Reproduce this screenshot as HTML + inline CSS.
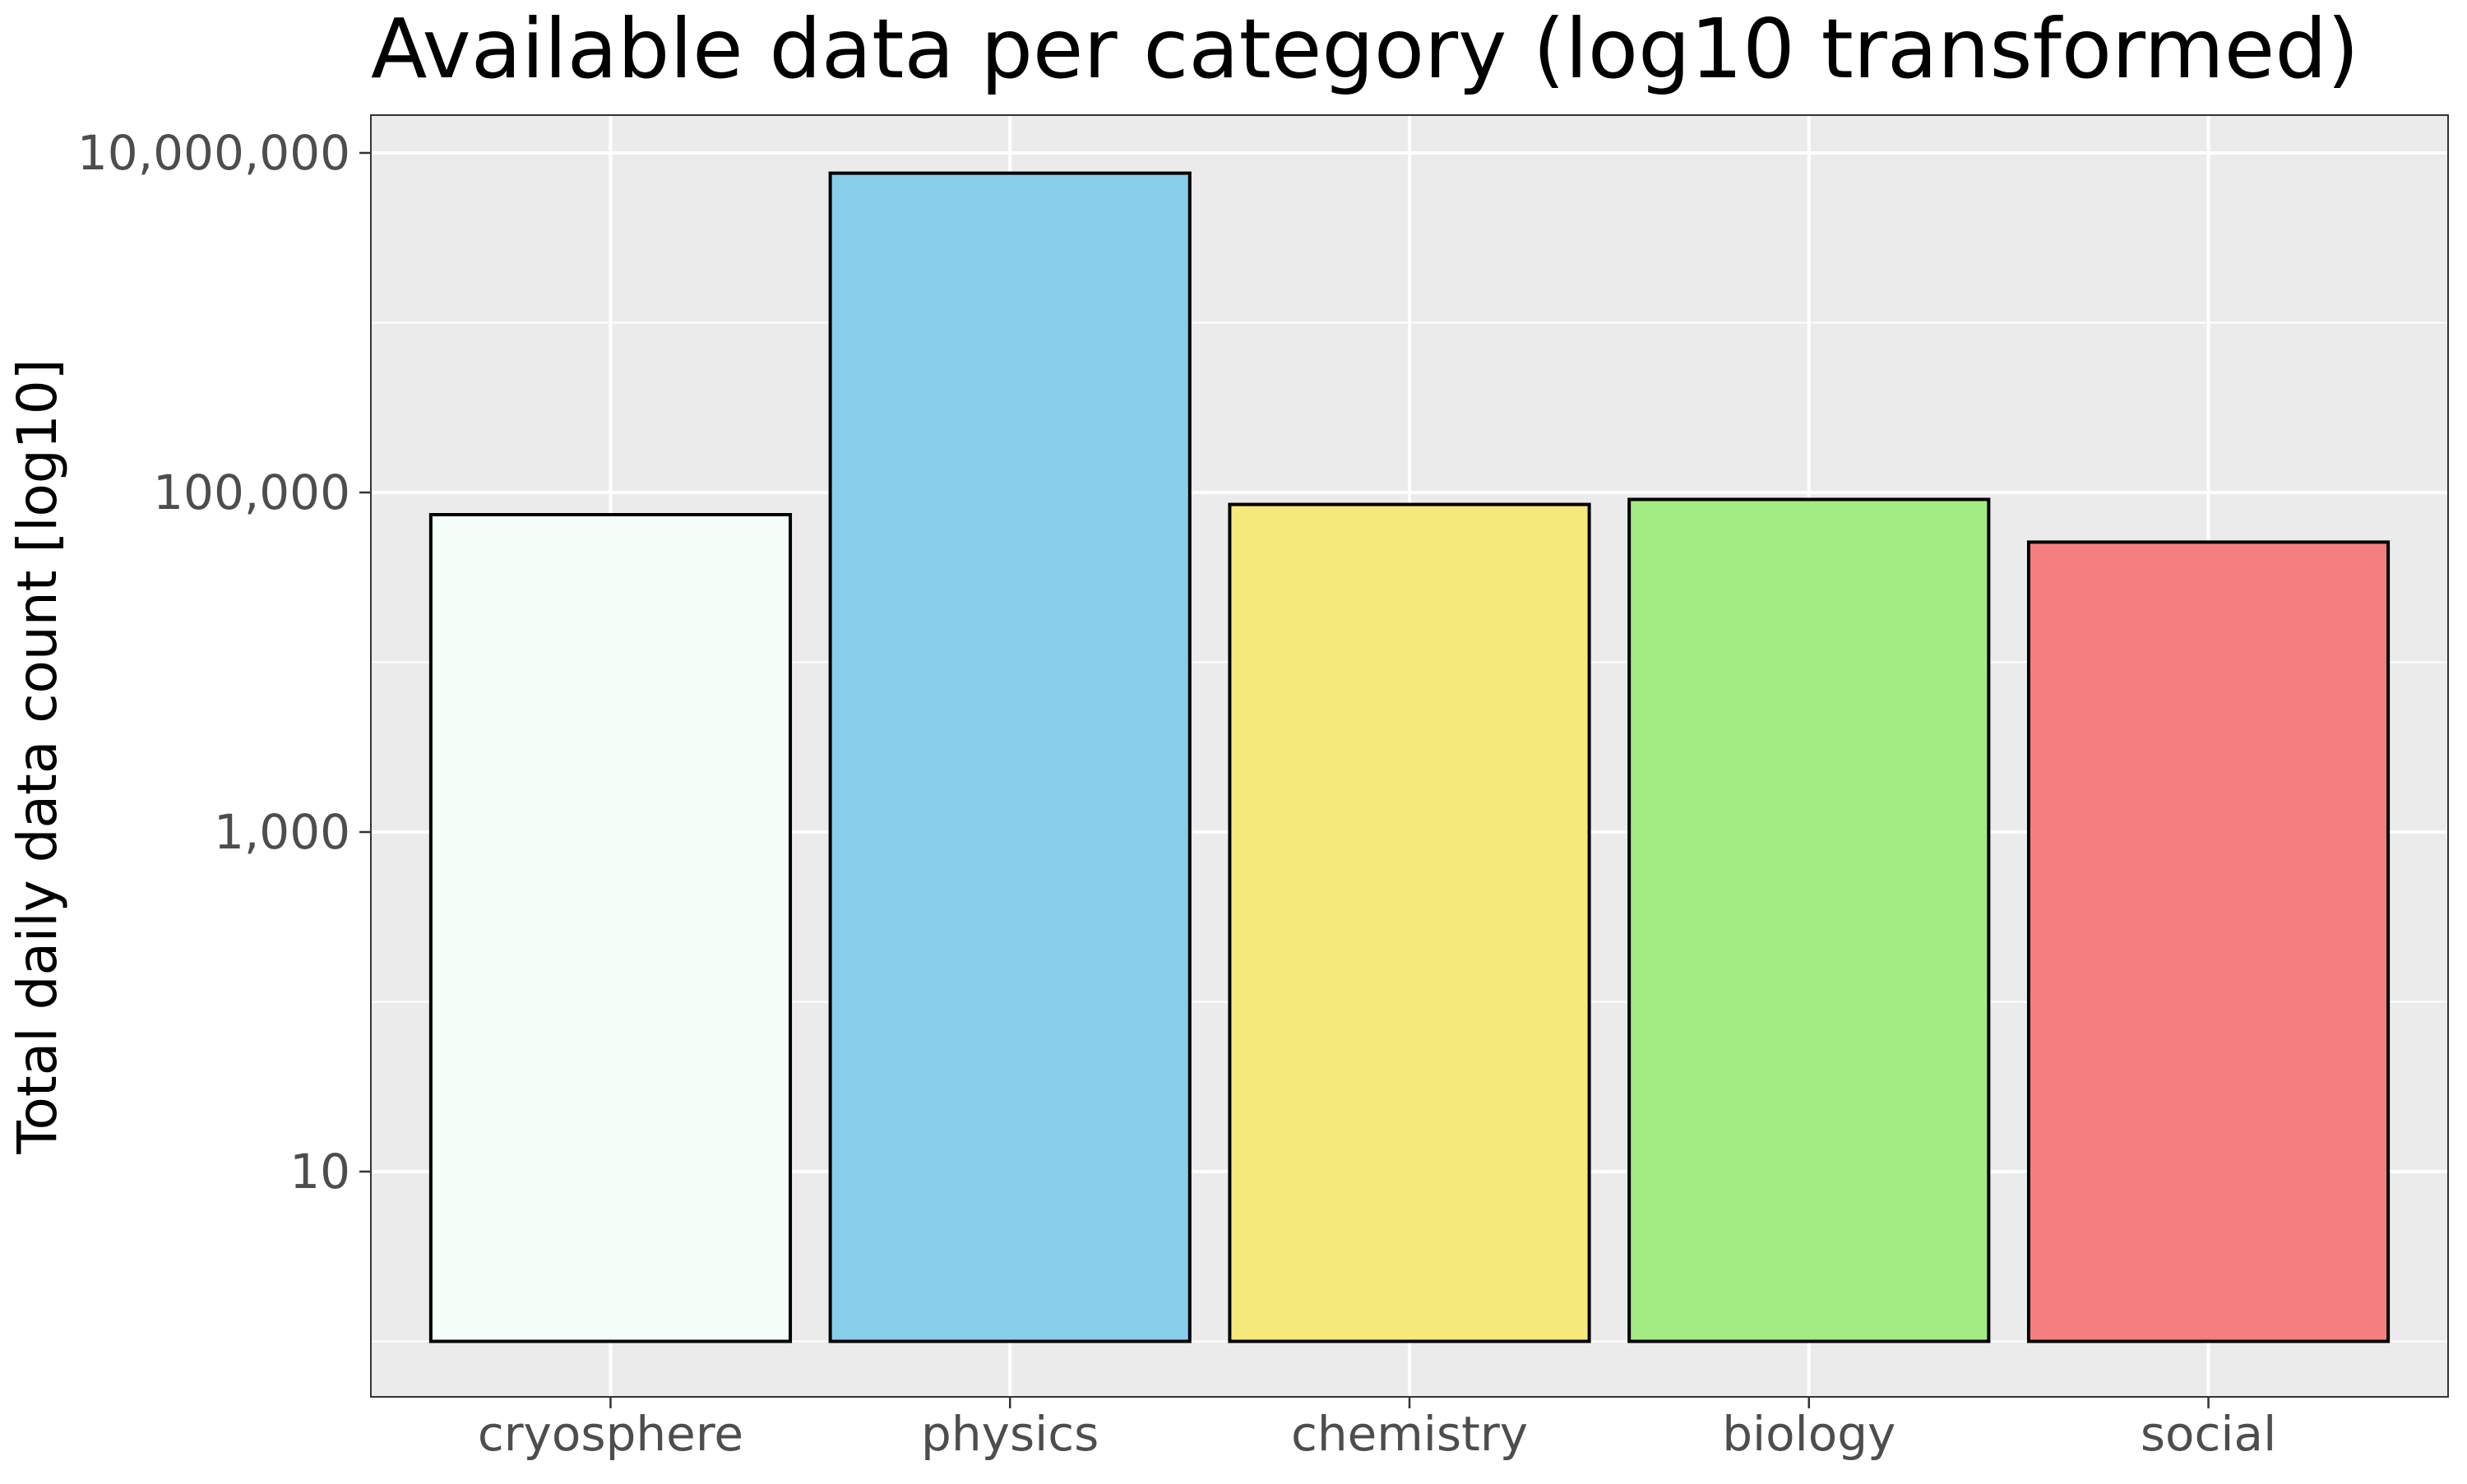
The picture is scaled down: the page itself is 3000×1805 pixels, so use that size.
<!DOCTYPE html>
<html><head><meta charset="utf-8"><style>
body{margin:0;background:#fff;}
svg text{font-family:"DejaVu Sans","Liberation Sans",sans-serif;}
</style></head><body>
<svg id="chart" width="3000" height="1800" xmlns="http://www.w3.org/2000/svg">
<rect width="3000" height="1800" fill="#fff"/>
<text x="451" y="94" font-size="100" fill="#000">Available data per category (log10 transformed)</text>
<text transform="translate(68,920) rotate(-90)" text-anchor="middle" font-size="66" fill="#000">Total daily data count [log10]</text>
<g id="plot"></g>
</svg>
<script>
const categories=["cryosphere","physics","chemistry","biology","social"];
const values=[74000,7600000,85000,91000,51000];
const colors=["#F5FFFA","#87CEEB","#F5E97C","#A2EC83","#F47F7E"];
const yTicks=[10,1000,100000,10000000];
const yTickLabels=["10","1,000","100,000","10,000,000"];
const yMinorTicks=[1,100,10000,1000000];
const L=451,R=2977,T=140,B=1699;
const decade=206.5;
function y(v){return 1425-(Math.log10(v)-1)*decade;}
const band=(R-L)/(categories.length+0.2);
function x(i){return L+band*(i+0.6);}
const g=document.getElementById('plot');
const NS="http://www.w3.org/2000/svg";
function el(t,a){const e=document.createElementNS(NS,t);for(const k in a)e.setAttribute(k,a[k]);g.appendChild(e);return e;}
const bg=el('rect',{x:L,y:T,width:R-L,height:B-T,fill:'#EBEBEB'});


yMinorTicks.forEach(v=>{const yy=y(v);if(yy>T&&yy<B){const m=el('line',{x1:L,x2:R,y1:yy,y2:yy,stroke:'#fff','stroke-width':2});

}});
yTicks.forEach((v,i)=>{const yy=y(v);
const gl=el('line',{x1:L,x2:R,y1:yy,y2:yy,stroke:'#fff','stroke-width':4});


const tk=el('line',{x1:L-14,x2:L,y1:yy,y2:yy,stroke:'#333','stroke-width':2.5});


const t=el('text',{x:L-25,y:yy+20,'text-anchor':'end','font-size':58,fill:'#4D4D4D'});t.textContent=yTickLabels[i];

});
categories.forEach((c,i)=>{const cx=x(i);
const gl=el('line',{x1:cx,x2:cx,y1:T,y2:B,stroke:'#fff','stroke-width':4});

});
categories.forEach((c,i)=>{const cx=x(i),w=band*0.9,top=y(values[i]),bot=y(1);
const b=el('rect',{x:cx-w/2,y:top,width:w,height:bot-top,fill:colors[i],stroke:'#000','stroke-width':4});


const tk=el('line',{x1:cx,x2:cx,y1:B,y2:B+14,stroke:'#333','stroke-width':2.5});


const t=el('text',{x:cx,y:1764,'text-anchor':'middle','font-size':58,fill:'#4D4D4D'});t.textContent=c;

});
const bd=el('rect',{x:L,y:T,width:R-L,height:B-T,fill:'none',stroke:'#333','stroke-width':2});


</script>
</body></html>
